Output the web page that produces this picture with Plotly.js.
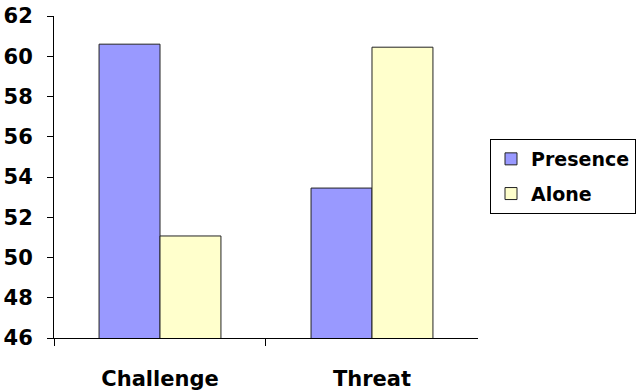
<!DOCTYPE html>
<html><head><meta charset="utf-8">
<script src="https://cdn.plot.ly/plotly-3.0.1.min.js"></script>
<style>html,body{margin:0;padding:0;background:#fff}#c{width:638px;height:392px}</style>
</head><body><div id="c"></div>
<script>
var categories = ["Challenge", "Threat"];
var presence = [60.6, 53.45];
var alone = [51.07, 60.45];
var seriesNames = ["Presence", "Alone"];
var tickVals = [46, 48, 50, 52, 54, 56, 58, 60, 62];

var fontFam = "DejaVu Sans, sans-serif";
var traces = [
  {type: "bar", name: seriesNames[0], x: categories, y: presence, legendgroup: "a",
   marker: {color: "#9999FF", line: {color: "#222", width: 1}}},
  {type: "bar", name: seriesNames[1], x: categories, y: alone, legendgroup: "b",
   marker: {color: "#FFFFCC", line: {color: "#222", width: 1}}}
];
var layout = {
  width: 638, height: 392,
  margin: {l: 54, r: 2, t: 16, b: 54, pad: 0},
  paper_bgcolor: "#fff", plot_bgcolor: "#fff",
  barmode: "group", bargap: 0.425, bargroupgap: 0,
  showlegend: true,
  legend: {x: 1, xanchor: "right", y: 0.618, yanchor: "top",
    bordercolor: "#000", borderwidth: 1, bgcolor: "#fff",
    font: {family: fontFam, size: 19, color: "#000", weight: "bold"},
    traceorder: "grouped", tracegroupgap: 7},
  xaxis: {type: "category", domain: [0, 0.7285], showline: true, linecolor: "#000", linewidth: 1,
    ticks: "outside", tickson: "boundaries", ticklen: 7, tickcolor: "#000",
    showgrid: false, zeroline: false, ticklabelstandoff: 22,
    tickfont: {family: fontFam, size: 21, color: "#000", weight: "bold"}},
  yaxis: {range: [46, 62], tickvals: tickVals, showline: true, linecolor: "#000", linewidth: 1,
    ticks: "outside", ticklen: 6, tickcolor: "#000", showgrid: false, zeroline: false,
    ticklabelstandoff: 10,
    tickfont: {family: fontFam, size: 21, color: "#000", weight: "bold"}}
};
Plotly.newPlot("c", traces, layout, {displayModeBar: false, staticPlot: true});
</script></body></html>
